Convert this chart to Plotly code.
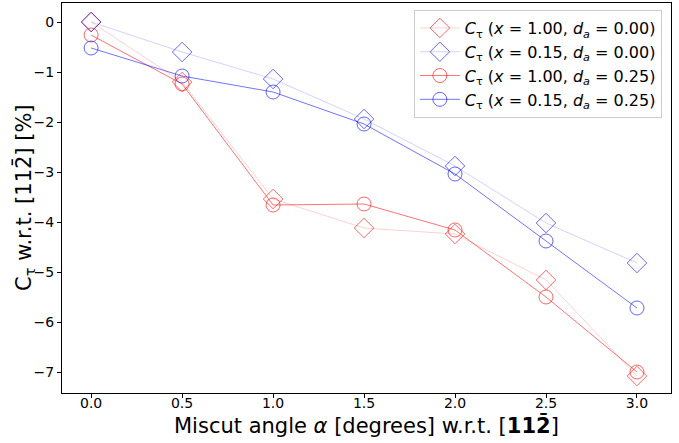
import plotly.graph_objects as go

angles = [0.0, 0.5, 1.0, 1.5, 2.0, 2.5, 3.0]
red_d0 = [0.0, -1.20, -3.54, -4.12, -4.24, -5.16, -7.08]
blue_d0 = [0.0, -0.60, -1.14, -1.94, -2.88, -4.02, -4.82]
red_d25 = [-0.26, -1.24, -3.66, -3.64, -4.16, -5.50, -7.00]
blue_d25 = [-0.52, -1.08, -1.40, -2.04, -3.04, -4.38, -5.72]

labels = [
    "<i>C</i><sub>τ</sub> (<i>x</i> = 1.00, <i>d</i><sub><i>a</i></sub> = 0.00)",
    "<i>C</i><sub>τ</sub> (<i>x</i> = 0.15, <i>d</i><sub><i>a</i></sub> = 0.00)",
    "<i>C</i><sub>τ</sub> (<i>x</i> = 1.00, <i>d</i><sub><i>a</i></sub> = 0.25)",
    "<i>C</i><sub>τ</sub> (<i>x</i> = 0.15, <i>d</i><sub><i>a</i></sub> = 0.25)",
]
xtitle = "Miscut angle <i>α</i> [degrees] w.r.t. [<b>112̄</b>]"
ytitle = "C<sub>τ</sub> w.r.t. [112̄] [%]"

series = [
    (red_d0, labels[0], "rgba(255,0,0,0.18)", "rgba(255,0,0,0.6)", "diamond-open", 15),
    (blue_d0, labels[1], "rgba(0,0,255,0.18)", "rgba(0,0,255,0.6)", "diamond-open", 15),
    (red_d25, labels[2], "rgba(255,0,0,0.55)", "rgba(255,0,0,0.6)", "circle-open", 14),
    (blue_d25, labels[3], "rgba(0,0,255,0.55)", "rgba(0,0,255,0.6)", "circle-open", 14),
]

fig = go.Figure()
for ys, name, lc, mc, sym, sz in series:
    fig.add_trace(go.Scatter(
        x=angles, y=ys, name=name, mode="lines+markers",
        line=dict(color=lc, width=1),
        marker=dict(symbol=sym, size=sz, color=mc, line=dict(color=mc, width=1)),
    ))

fig.update_layout(
    width=679, height=443,
    margin=dict(l=62, r=8, t=3, b=50),
    paper_bgcolor="white", plot_bgcolor="white",
    font=dict(family="DejaVu Sans", color="black"),
    showlegend=True,
    legend=dict(
        x=0.985, y=0.982, xanchor="right", yanchor="top",
        bgcolor="rgba(255,255,255,0.8)", bordercolor="#cccccc", borderwidth=1,
        font=dict(size=16), tracegroupgap=0, itemwidth=40,
    ),
    annotations=[
        dict(text=xtitle, xref="paper", yref="paper", x=0.5, y=0, xanchor="center",
             yanchor="middle", yshift=-32, showarrow=False, font=dict(size=21)),
        dict(text=ytitle, xref="paper", yref="paper", x=0, y=0.5, xanchor="center",
             yanchor="middle", xshift=-38, textangle=-90, showarrow=False, font=dict(size=21)),
    ],
)
fig.update_xaxes(
    range=[-0.16, 3.187], tickvals=[0, 0.5, 1.0, 1.5, 2.0, 2.5, 3.0],
    ticktext=["0.0", "0.5", "1.0", "1.5", "2.0", "2.5", "3.0"], automargin=False,
    showgrid=False, zeroline=False, showline=True, linecolor="black", linewidth=1.2,
    mirror=True, ticks="outside", ticklen=4, tickcolor="black", tickfont=dict(size=14),
    ticklabelstandoff=-7,
)
fig.update_yaxes(
    range=[-7.42, 0.38], tickvals=[0, -1, -2, -3, -4, -5, -6, -7], automargin=False,
    showgrid=False, zeroline=False, showline=True, linecolor="black", linewidth=1.2,
    mirror=True, ticks="outside", ticklen=4, tickcolor="black", tickfont=dict(size=14),
)

fig.write_html("out.html", config={"displayModeBar": False},
               post_script="document.body.style.margin='0';")
